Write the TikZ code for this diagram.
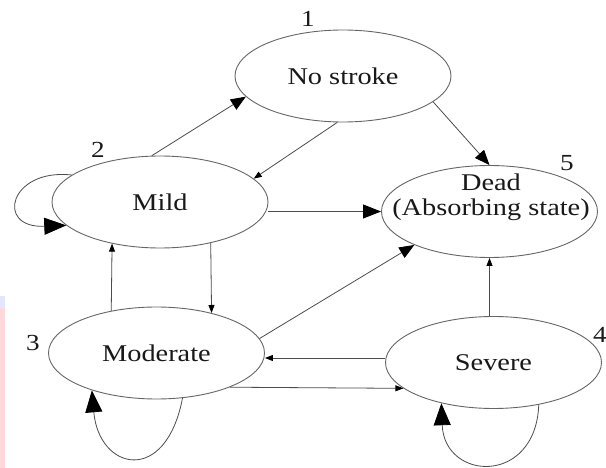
\documentclass[tikz,border=0pt]{standalone}
\usepackage{fontspec}
\setmainfont{Liberation Serif}[FakeStretch=1.18]
\usetikzlibrary{shapes.geometric,arrows.meta}
\begin{document}
\begin{tikzpicture}[x=1pt,y=-1pt,
  state/.style={ellipse, draw=black!60, line width=0.9pt, minimum width=216pt, minimum height=92pt, inner sep=0pt, font=\fontsize{24}{25}\selectfont, text=black!90},
  txt/.style={font=\fontsize{24}{25}\selectfont, text=black!90, align=center, inner sep=0pt},
  num/.style={font=\fontsize{23}{25}\selectfont, text=black!90, inner sep=0pt},
  conn/.style={draw=black!70, line width=0.8pt},
  sm/.style={-{Triangle[length=8pt,width=6pt,color=black]}},
  md/.style={-{Triangle[length=15pt,width=12pt,color=black]}},
  lg/.style={-{Triangle[length=22pt,width=17pt,color=black]}},
]
\useasboundingbox (0,0) rectangle (606,468);
\fill[white] (0,0) rectangle (606,468);
\fill[red!15] (0,308) rectangle (5,468);
\fill[blue!10] (0,296) rectangle (5,308);

\node[state] (nostroke) at (343,76) {No stroke};
\node[state] (mild) at (160,202) {Mild};
\node[state] (moderate) at (156.5,353) {Moderate};
\node[state] (dead) at (489.5,211.5) {};
\node[txt] (deadtext) at (491,197) {Dead\\(Absorbing state)};
\node[state] (severe) at (493.5,362.5) {Severe};

\node[num] (n1) at (308,19) {1};
\node[num] (n2) at (98,150) {2};
\node[num] (n3) at (33,343) {3};
\node[num] (n5) at (567,163) {5};
\node[num] (n4) at (600,335) {4};

\draw[conn,md] (mild.100) -- (nostroke.192);
\draw[conn,sm] (nostroke.-97) -- (mild.14);
\draw[conn,md] (nostroke.-16) -- (dead.north);
\draw[conn,-{Triangle[length=18pt,width=14pt,color=black]}] (mild.east |- dead.west) -- (dead.west);
\draw[conn,sm] (moderate.137) -- (mild.-139);
\draw[conn,sm] (mild.-39) -- (moderate.36);
\draw[conn,md] (moderate.8) -- (dead.204);
\draw[conn,sm] ([yshift=4.5pt]severe.west) -- ([yshift=-5pt]moderate.east);
\draw[conn,sm] (moderate.-25.6) -- (severe.-164.2);
\draw[conn,sm] (severe.north -| dead.south) -- (dead.south);

\draw[conn,lg] (mild.163) .. controls +(-62,-7) and +(-72,3) .. (mild.194);
\draw[conn,lg] (moderate.-60) .. controls +(-17,88) and +(7,80) .. (moderate.-150);
\draw[conn,lg] (severe.-43) .. controls +(-3,81) and +(3,78) .. (severe.-142);
\end{tikzpicture}
\end{document}
